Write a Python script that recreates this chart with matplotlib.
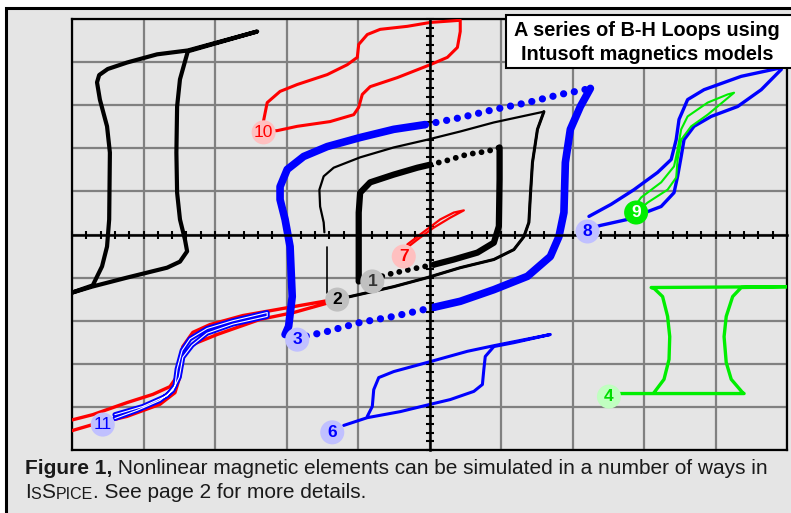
import numpy as np
import matplotlib
matplotlib.use("Agg")
import matplotlib.pyplot as plt
from matplotlib.patches import Rectangle
from matplotlib.ticker import MultipleLocator

plt.rcParams['font.family'] = ['Liberation Sans', 'DejaVu Sans']
plt.rcParams['lines.solid_joinstyle'] = 'round'
plt.rcParams['lines.solid_capstyle'] = 'round'

# -----------------------------
# B-H loop traces, in grid units (one grid box = 1, origin at the axes cross)
# -----------------------------
# big black loop, upper left
loop_a_x = [-5.04, -4.72, -4.23, -3.67, -3.49, -3.39, -3.42, -3.49, -3.53, -3.54, -3.53, -3.49, -3.38, -2.41,
            -3.38, -3.81, -4.23, -4.50, -4.62, -4.65, -4.61, -4.51, -4.47, -4.48, -4.51, -4.58, -4.71, -5.04]
loop_a_y = [-1.37, -1.21, -1.00, -0.77, -0.63, -0.39, -0.12, 0.35, 0.97, 1.90, 2.97, 3.60, 4.25, 4.71,
            4.27, 4.18, 3.99, 3.84, 3.70, 3.53, 3.13, 2.51, 1.90, 0.35, -0.28, -0.74, -1.18, -1.37]

# loop 10 (red)
loop10_x = [-2.34, -2.27, -2.09, -1.85, -1.43, -1.15, -1.01, -0.99, -0.87, -0.69, -0.31, 0.01, 0.43,
            0.43, 0.39, 0.25, 0.01, -0.45, -0.83, -0.94, -0.99, -1.06, -1.39, -1.85, -2.13, -2.32]
loop10_y = [2.48, 3.06, 3.32, 3.48, 3.71, 3.94, 4.11, 4.41, 4.64, 4.76, 4.83, 4.92, 4.97,
            4.71, 4.34, 4.11, 3.94, 3.64, 3.43, 3.25, 2.95, 2.78, 2.62, 2.51, 2.41, 2.39]

# loop 11 (red outer, blue inner)
loop11_red_x = [-5.04, -4.71, -4.23, -3.87, -3.63, -3.53, -3.50, -3.45, -3.31, -3.07, -2.61, -2.13, -1.34,
                -1.34, -1.90, -2.37, -2.97, -3.31, -3.45, -3.49, -3.56, -3.77, -4.23, -4.71, -5.04]
loop11_red_y = [-4.32, -4.18, -3.90, -3.71, -3.53, -3.29, -2.95, -2.60, -2.27, -2.09, -1.88, -1.74, -1.51,
                -1.55, -1.81, -1.97, -2.32, -2.55, -2.83, -3.29, -3.67, -3.94, -4.22, -4.41, -4.57]
loop11_blue_x = [-4.40, -4.01, -3.67, -3.56, -3.53, -3.46, -3.35, -3.11, -2.75, -2.27,
                 -2.27, -2.75, -3.11, -3.32, -3.45, -3.50, -3.59, -3.77, -4.09, -4.40]
loop11_blue_y = [-4.18, -3.99, -3.74, -3.51, -3.12, -2.69, -2.42, -2.18, -2.00, -1.81,
                 -1.90, -2.08, -2.29, -2.57, -2.85, -3.31, -3.62, -3.85, -4.08, -4.27]

# loop 3 (thick blue, solid branches + dotted fast segments)
loop3_left_x = [-2.02, -1.97, -1.92, -1.95, -2.02, -2.09, -2.09, -1.99, -1.76, -1.43, -0.97, -0.50, -0.06]
loop3_left_y = [-2.32, -2.13, -1.44, -0.28, 0.35, 0.81, 1.11, 1.51, 1.81, 2.04, 2.25, 2.44, 2.55]
loop3_top_x = [-0.06, 0.43, 0.90, 1.37, 1.83, 2.11, 2.25]
loop3_top_y = [2.55, 2.71, 2.90, 3.06, 3.25, 3.34, 3.39]
loop3_right_x = [2.25, 2.11, 1.97, 1.90, 1.88, 1.81, 1.69, 1.37, 0.90, 0.43, 0.06]
loop3_right_y = [3.39, 2.97, 2.44, 1.67, 0.51, -0.05, -0.51, -0.97, -1.28, -1.55, -1.69]
loop3_bot_x = [0.06, -0.50, -0.97, -1.43, -1.76]
loop3_bot_y = [-1.69, -1.90, -2.04, -2.25, -2.37]

# loop 2 (thin black)
loop2_x = [-1.29, -1.11, -0.50, -0.03, 0.43, 0.90, 1.18, 1.32, 1.39, 1.41, 1.44, 1.51, 1.60,
           0.90, 0.43, -0.03, -0.50, -0.97, -1.34, -1.48, -1.54, -1.53, -1.48, -1.47]
loop2_y = [-1.51, -1.44, -1.21, -1.00, -0.77, -0.58, -0.35, -0.05, 0.28, 0.88, 1.67, 2.44, 2.85,
           2.60, 2.39, 2.20, 2.02, 1.79, 1.55, 1.35, 1.04, 0.65, 0.28, 0.05]
loop2_tail_x = [-1.44, -1.44]
loop2_tail_y = [-0.30, -1.35]

# loop 1 (thick black, solid + dotted)
loop1_left_x = [-0.99, -0.99, -0.99, -0.97, -0.83, -0.50, -0.17, 0.01]
loop1_left_y = [-1.09, -0.35, 0.51, 0.97, 1.21, 1.39, 1.55, 1.62]
loop1_top_x = [0.01, 0.25, 0.53, 0.81, 0.98]
loop1_top_y = [1.62, 1.72, 1.86, 1.93, 2.02]
loop1_right_x = [0.98, 0.98, 0.97, 0.90, 0.67, 0.34, 0.06]
loop1_right_y = [2.02, 1.28, 0.19, -0.19, -0.42, -0.58, -0.70]
loop1_bot_x = [0.06, -0.27, -0.59, -0.76]
loop1_bot_y = [-0.70, -0.81, -0.93, -1.02]

# loop 7 (small red)
loop7_x = [-0.31, -0.13, 0.15, 0.34, 0.48, 0.29, 0.06, -0.17, -0.31]
loop7_y = [-0.23, 0.00, 0.35, 0.51, 0.56, 0.39, 0.16, -0.12, -0.30]

# loop 6 (blue)
loop6_x = [-1.20, -0.87, -0.41, 0.01, 0.29, 0.62, 0.74, 0.76, 0.78, 0.90, 1.18, 1.69,
           0.90, 0.53, 0.01, -0.50, -0.71, -0.78, -0.80, -0.87]
loop6_y = [-4.43, -4.25, -4.11, -3.94, -3.83, -3.64, -3.48, -3.13, -2.83, -2.60, -2.51, -2.32,
           -2.58, -2.71, -2.95, -3.18, -3.32, -3.60, -3.99, -4.22]

# loop 8 (blue)
loop8_x = [2.21, 2.39, 2.77, 3.05, 3.24, 3.42, 3.47, 3.52, 3.56, 3.70, 3.94, 4.31, 4.64, 4.92,
           4.92, 4.36, 3.84, 3.61, 3.49, 3.45, 3.38, 3.19, 2.86, 2.54, 2.23]
loop8_y = [0.12, 0.21, 0.35, 0.53, 0.65, 0.97, 1.35, 1.81, 2.20, 2.51, 2.74, 2.97, 3.36, 3.83,
           3.87, 3.67, 3.36, 3.13, 2.67, 2.20, 1.74, 1.44, 1.04, 0.70, 0.42]

# loop 9 (green)
loop9_x = [2.89, 3.05, 3.33, 3.45, 3.47, 3.52, 3.66, 3.89, 4.26,
           4.17, 3.89, 3.61, 3.52, 3.47, 3.42, 3.24, 2.96, 2.89]
loop9_y = [0.51, 0.74, 1.04, 1.32, 1.74, 2.20, 2.51, 2.78, 3.29,
           3.25, 3.06, 2.74, 2.44, 1.97, 1.58, 1.21, 0.86, 0.70]

# loop 4 (green, square loop)
loop4_x = [2.51, 4.40, 4.38, 4.22, 4.15, 4.12, 4.15, 4.24, 4.36, 5.01,
           3.10, 3.14, 3.26, 3.33, 3.36, 3.35, 3.28, 3.14]
loop4_y = [-3.69, -3.69, -3.67, -3.36, -2.97, -2.37, -1.90, -1.44, -1.23, -1.21,
           -1.23, -1.25, -1.44, -1.90, -2.37, -2.90, -3.36, -3.67]

# numbered tags
tag_text = ["1", "2", "3", "4", "6", "7", "8", "9", "10", "11"]
tag_x = [-0.80, -1.29, -1.85, 2.51, -1.36, -0.36, 2.21, 2.89, -2.32, -4.57]
tag_y = [-1.09, -1.51, -2.44, -3.76, -4.59, -0.51, 0.07, 0.51, 2.37, -4.41]
tag_face = ["#c0c0c0", "#c0c0c0", "#c0c0ff", "#c0ffc0", "#c0c0ff", "#ffc0c0", "#c0c0ff", "#00ee00", "#ffc0c0", "#c0c0ff"]
tag_color = ["#333333", "black", "#0000ff", "#00dd00", "#0000ff", "#ff0000", "#0000ff", "white", "#ff0000", "#0000ff"]
tag_weight = ["bold", "bold", "bold", "bold", "bold", "bold", "bold", "bold", "normal", "normal"]

RED, BLUE, GREEN = "#ff0000", "#0000ff", "#00ee00"

# -----------------------------
# figure / frame
# -----------------------------
W, H = 791, 513
fig = plt.figure(figsize=(W / 100, H / 100), dpi=100)
fig.patch.set_facecolor("white")

bg = fig.add_axes([0, 0, 1, 1])
bg.set_xlim(0, W)
bg.set_ylim(H, 0)
bg.axis("off")
bg.add_patch(Rectangle((6, 8), 820, 540, facecolor="#e5e5e5", edgecolor="black", lw=2.2))

rect = [72 / W, (H - 450) / H, (787 - 72) / W, (450 - 19) / H]

# grid + outer box
axg = fig.add_axes(rect)
axg.set_xlim(-5, 5)
axg.set_ylim(-5, 5)
axg.set_facecolor("none")
axg.set_xticks(np.arange(-5, 6))
axg.set_yticks(np.arange(-5, 6))
axg.grid(True, color="#808080", lw=1.6)
axg.tick_params(length=0, labelbottom=False, labelleft=False)
for s in axg.spines.values():
    s.set_color("black")
    s.set_linewidth(1.6)

# center axes with tick marks, and the loops
ax = fig.add_axes(rect)
ax.set_xlim(-5, 5)
ax.set_ylim(-5, 5)
ax.set_facecolor("none")
for side in ["left", "bottom"]:
    ax.spines[side].set_position(("data", 0))
    ax.spines[side].set_linewidth(1.8)
for side in ["right", "top"]:
    ax.spines[side].set_visible(False)
ax.xaxis.set_major_locator(MultipleLocator(1))
ax.yaxis.set_major_locator(MultipleLocator(1))
ax.xaxis.set_minor_locator(MultipleLocator(0.2))
ax.yaxis.set_minor_locator(MultipleLocator(0.2))
ax.tick_params(which="both", direction="inout", length=6, width=1.5,
               labelbottom=False, labelleft=False)

# loops
ax.plot(loop_a_x, loop_a_y, color="black", lw=3)
ax.plot(loop10_x, loop10_y, color=RED, lw=2.2)
ax.plot(loop11_red_x, loop11_red_y, color=RED, lw=2.4)
ax.plot(loop11_blue_x, loop11_blue_y, color=BLUE, lw=3.6)
ax.plot(loop11_blue_x, loop11_blue_y, color="white", lw=0.8)

ax.plot(loop2_x, loop2_y, color="black", lw=1.6)
ax.plot(loop2_x[:13], loop2_y[:13], color="black", lw=2.2)
ax.plot(loop2_tail_x, loop2_tail_y, color="black", lw=1.2)

dots = dict(ls=(0, (0.01, 1.5)), dash_capstyle="round")
ax.plot(loop3_left_x, loop3_left_y, color=BLUE, lw=5.5)
ax.plot(loop3_right_x, loop3_right_y, color=BLUE, lw=5.5)
ax.plot(loop3_top_x, loop3_top_y, color=BLUE, lw=5.2, **dots)
ax.plot(loop3_bot_x, loop3_bot_y, color=BLUE, lw=5.2, **dots)

ax.plot(loop1_left_x, loop1_left_y, color="black", lw=4.5)
ax.plot(loop1_right_x, loop1_right_y, color="black", lw=4.5)
ax.plot(loop1_top_x, loop1_top_y, color="black", lw=4.2, **dots)
ax.plot(loop1_bot_x, loop1_bot_y, color="black", lw=4.2, **dots)

ax.plot(loop7_x, loop7_y, color=RED, lw=1.6)
ax.plot(loop6_x, loop6_y, color=BLUE, lw=2.2)
ax.plot(loop8_x, loop8_y, color=BLUE, lw=2.4)
ax.plot(loop9_x, loop9_y, color=GREEN, lw=1.5)
ax.plot(loop4_x, loop4_y, color=GREEN, lw=2.4)

# numbered tags
ax.scatter(tag_x, tag_y, s=300, c=tag_face, edgecolors="none", zorder=5)
for t, x, y, c, w in zip(tag_text, tag_x, tag_y, tag_color, tag_weight):
    ax.text(x, y, t, color=c, fontsize=12.5, fontweight=w, ha="center", va="center", zorder=6)

# -----------------------------
# title box and caption
# -----------------------------
fg = fig.add_axes([0, 0, 1, 1])
fg.set_xlim(0, W)
fg.set_ylim(H, 0)
fg.axis("off")
fg.set_zorder(10)
fg.add_patch(Rectangle((506, 15), 300, 53, facecolor="white", edgecolor="black", lw=1.5))
fg.text(647, 31, "A series of B-H Loops using", fontsize=14.3, fontweight="bold", ha="center", va="center")
fg.text(647, 54, "Intusoft magnetics models", fontsize=14.3, fontweight="bold", ha="center", va="center")

big, small = 15, 11.5
t = fg.text(25, 474, "Figure 1,", fontsize=big, fontweight="bold", va="baseline", color="#1a1a1a")
fg.annotate(" Nonlinear magnetic elements can be simulated in a number of ways in",
            xy=(1, 0), xycoords=t, va="bottom", fontsize=big, color="#1a1a1a")
t = fg.text(25, 498, "I", fontsize=big, va="baseline", color="#1a1a1a")
for piece, size in [("S", small), ("S", big), ("PICE", small), (". See page 2 for more details.", big)]:
    t = fg.annotate(piece, xy=(1, 0), xycoords=t, va="bottom", fontsize=size, color="#1a1a1a")

fig.savefig("out.png", dpi=100)
